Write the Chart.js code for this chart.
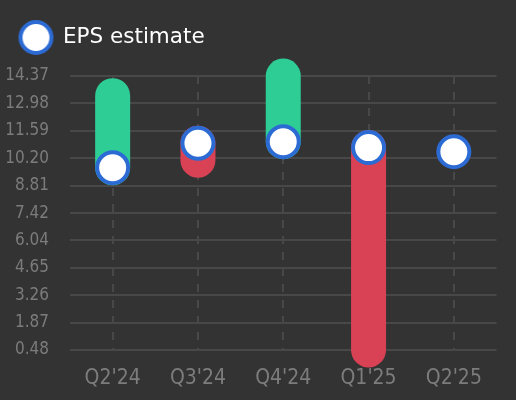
<!DOCTYPE html>
<html>
<head>
<meta charset="utf-8">
<script src="https://cdn.jsdelivr.net/npm/chart.js@4.4.1/dist/chart.umd.min.js"></script>
<style>
  html, body { margin: 0; padding: 0; background: #333333; }
  #wrap { width: 516px; height: 400px; position: relative; }
</style>
</head>
<body>
<div id="wrap"><canvas id="c"></canvas></div>
<script>
// ---- data ----
const categories = ["Q2'24", "Q3'24", "Q4'24", "Q1'25", "Q2'25"];
const epsEstimate = [9.72, 10.96, 11.04, 10.74, 10.53];
const epsActual = [13.37, 10.10, 14.37, 0.48, null];
const yTickValues = [0.48, 1.87, 3.26, 4.65, 6.04, 7.42, 8.81, 10.20, 11.59, 12.98, 14.37];
const seriesLabel = 'EPS estimate';

// ---- styles ----
const C = {
  grid: '#484848',
  tick: '#7c7c7c',
  legend: '#ffffff',
  beat: '#2ecd96',
  miss: '#d94154',
  ring: '#2d6bd4',
  fill: '#ffffff'
};
const FONT = 'DejaVu Sans';
const FONT_AXIS = "'DejaVu Sans Condensed', 'DejaVu Sans'";

// legend icon (same look as the estimate marker)
const icon = document.createElement('canvas');
icon.width = 37; icon.height = 37;
(function () {
  const g = icon.getContext('2d');
  g.beginPath();
  g.arc(18.5, 18.5, 15.5, 0, Math.PI * 2);
  g.fillStyle = C.fill; g.fill();
  g.lineWidth = 4; g.strokeStyle = C.ring; g.stroke();
})();

const datasets = [{
  type: 'line',
  label: seriesLabel,
  data: epsEstimate,
  showLine: false,
  pointRadius: 15.5,
  pointHoverRadius: 15.5,
  pointBorderWidth: 4,
  pointHoverBorderWidth: 4,
  pointBackgroundColor: C.fill,
  pointBorderColor: C.ring,
  backgroundColor: C.fill,
  borderColor: C.ring,
  clip: false,
  order: 0
}];
categories.forEach((cat, i) => {
  if (epsActual[i] === null || epsActual[i] === undefined) return;
  datasets.push({
    type: 'line',
    label: 'range ' + cat,
    data: [{ x: cat, y: epsEstimate[i] }, { x: cat, y: epsActual[i] }],
    borderColor: epsActual[i] >= epsEstimate[i] ? C.beat : C.miss,
    borderWidth: 35,
    borderCapStyle: 'round',
    pointRadius: 0,
    pointHoverRadius: 0,
    fill: false,
    clip: false,
    order: 1
  });
});

new Chart(document.getElementById('c'), {
  type: 'line',
  data: { labels: categories, datasets },
  options: {
    responsive: true,
    maintainAspectRatio: false,
    animation: false,
    layout: { padding: { top: 7, left: 0, right: 19, bottom: -7.2 } },
    plugins: {
      legend: {
        display: true,
        position: 'top',
        align: 'start',
        labels: {
          usePointStyle: true,
          pointStyle: icon,
          pointStyleWidth: 32.5,
          color: C.legend,
          font: { family: FONT, size: 21.5 },
          padding: 19.75,
          filter: (item) => item.datasetIndex === 0
        }
      },
      // empty spacer between legend and plot
      title: {
        display: true,
        text: '',
        weight: 500,
        font: { size: 1 },
        padding: { top: 9, bottom: 7.55 }
      },
      tooltip: { enabled: false }
    },
    scales: {
      x: {
        type: 'category',
        labels: categories,
        offset: true,
        grid: { display: true, color: C.grid, lineWidth: 2, drawTicks: false },
        border: { display: false, dash: [8, 8] },
        ticks: { color: C.tick, font: { family: FONT_AXIS, size: 21 }, padding: 16 }
      },
      y: {
        type: 'linear',
        min: yTickValues[0],
        max: yTickValues[yTickValues.length - 1],
        afterBuildTicks: (s) => { s.ticks = yTickValues.map(v => ({ value: v })); },
        afterFit: (s) => { s.width = 70; },
        grid: { color: C.grid, lineWidth: 2, drawTicks: false },
        border: { display: false },
        ticks: {
          color: C.tick,
          font: { family: FONT_AXIS, size: 17 },
          padding: 21,
          callback: (v) => Number(v).toFixed(2)
        }
      }
    }
  }
});
</script>
</body>
</html>
